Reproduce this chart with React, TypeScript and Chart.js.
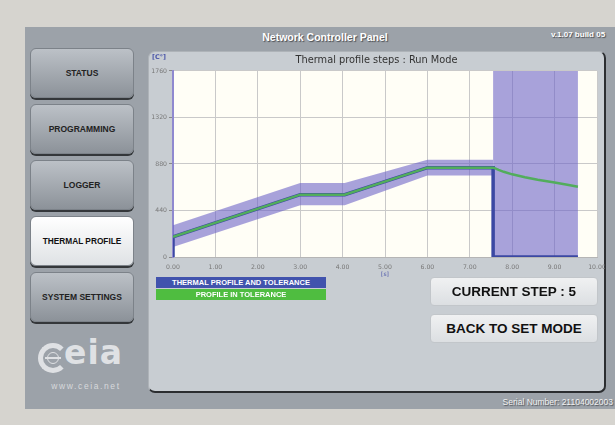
import React, { useEffect, useRef } from 'react';
import { Chart, registerables } from 'chart.js';

Chart.register(...registerables);

// ---- data ----
const profileX = [0, 0, 3.0, 4.05, 6.0, 7.55, 7.55, 9.55];
const profileY = [0, 190, 590, 590, 845, 845, 0, 0];
const greenX = [0, 3.0, 4.05, 6.0, 7.55, 7.6, 7.68, 7.8, 8.0, 8.3, 8.6, 9.0, 9.3, 9.55];
const greenY = [190, 590, 590, 845, 845, 838, 824, 806, 782, 754, 730, 704, 684, 665];
const tolX = [0, 3.0, 4.05, 6.0, 7.55];
const tolUpper = [300, 700, 700, 920, 920];
const tolLower = [95, 490, 490, 770, 770];
const runX = [7.55, 9.55];
const runY = [1760, 1760];
const yTicks = [0, 440, 880, 1320, 1760];
const xTicks = [0, 1, 2, 3, 4, 5, 6, 7, 8, 9, 10];
const menuItems = ['STATUS', 'PROGRAMMING', 'LOGGER', 'THERMAL PROFILE', 'SYSTEM SETTINGS'];
const selectedMenu = 'THERMAL PROFILE';
const legendItems = ['THERMAL PROFILE AND TOLERANCE', 'PROFILE IN TOLERANCE'];
const currentStep = 5;

const pts = (xs: number[], ys: number[]) => xs.map((x, i) => ({ x, y: ys[i] }));

const plotBg = {
  id: 'plotBg',
  beforeDraw(chart: any) {
    const y = chart.scales && chart.scales.y;
    if (y) y._computeLabelArea = () => undefined; // let y labels overhang the layout padding
    const { ctx, chartArea } = chart;
    if (!chartArea) return;
    ctx.save();
    ctx.fillStyle = '#fffef6';
    ctx.fillRect(chartArea.left, chartArea.top, chartArea.right - chartArea.left, chartArea.bottom - chartArea.top);
    ctx.restore();
  },
};

function ThermalChart() {
  const ref = useRef<HTMLCanvasElement | null>(null);
  useEffect(() => {
    if (!ref.current) return;
    const tickFont = { family: 'DejaVu Sans', size: 6.2 };
    const chart = new Chart(ref.current, {
      type: 'line',
      data: {
        datasets: [
          {
            label: 'Profile in tolerance',
            data: pts(greenX, greenY),
            borderColor: '#52ad5c',
            borderWidth: 2.5,
            pointRadius: 0,
            fill: false,
            tension: 0,
          },
          {
            label: 'Thermal profile',
            data: pts(profileX, profileY),
            borderColor: '#3b48a3',
            borderWidth: 3.5,
            pointRadius: 0,
            fill: false,
            tension: 0,
          },
          {
            label: 'Tolerance upper',
            data: pts(tolX, tolUpper),
            borderWidth: 0,
            borderColor: 'rgba(0,0,0,0)',
            backgroundColor: 'rgba(110,100,200,0.6)',
            pointRadius: 0,
            fill: '+1',
          },
          {
            label: 'Tolerance lower',
            data: pts(tolX, tolLower),
            borderWidth: 0,
            borderColor: 'rgba(0,0,0,0)',
            pointRadius: 0,
            fill: false,
          },
          {
            label: 'Run zone',
            data: pts(runX, runY),
            borderWidth: 0,
            borderColor: 'rgba(0,0,0,0)',
            backgroundColor: 'rgba(110,100,200,0.6)',
            pointRadius: 0,
            fill: 'origin',
          },
        ],
      },
      options: {
        animation: false,
        responsive: false,
        maintainAspectRatio: false,
        layout: { padding: { left: 8, right: 8, top: 0, bottom: 0 } },
        plugins: {
          legend: { display: false },
          tooltip: { enabled: false },
          title: {
            display: true,
            text: 'Thermal profile steps : Run Mode',
            color: '#333',
            font: { family: 'DejaVu Sans', size: 9.8, weight: 'normal' },
            padding: { top: 3, bottom: 4.2 },
          },
        },
        scales: {
          x: {
            type: 'linear',
            min: 0,
            max: 10,
            afterBuildTicks: (s: any) => { s.ticks = xTicks.map((v) => ({ value: v })); },
            afterFit: (s: any) => { s.height = 21; s.paddingRight = 0; s.paddingLeft = 0; },
            ticks: {
              font: tickFont,
              color: '#777',
              padding: 7,
              maxRotation: 0,
              autoSkip: false,
              callback: (v: any) => Number(v).toFixed(2),
            },
            grid: { color: '#c9c9c9', lineWidth: 1, drawTicks: false },
            border: { color: '#b5b5b5', width: 1 },
            title: {
              display: true,
              text: '[s]',
              color: '#4651a8',
              font: { family: 'DejaVu Sans', size: 6 },
              padding: { top: 0, bottom: 0 },
            },
          },
          y: {
            type: 'linear',
            min: 0,
            max: 1760,
            afterBuildTicks: (s: any) => { s.ticks = yTicks.map((v) => ({ value: v })); },
            afterFit: (s: any) => { s.width = 17; },
            ticks: { font: tickFont, color: '#777', padding: 2, callback: (v: any) => String(v) },
            grid: { color: '#c9c9c9', lineWidth: 1, tickLength: 4, tickColor: '#888' },
            border: { color: '#8f89cf', width: 2 },
          },
        },
      },
      plugins: [plotBg],
    } as any);
    return () => chart.destroy();
  }, []);
  return <canvas ref={ref} width={457} height={226} style={{ position: 'absolute', left: 148, top: 52, width: 457, height: 226 }} />;
}

export default function App() {
  const sans = '"Liberation Sans", Arial, sans-serif';
  const logoColor = '#dfe1e4';
  return (
    <div style={{ position: 'absolute', left: 0, top: 0, width: 615, height: 425, background: '#d6d4cf', overflow: 'hidden', fontFamily: sans }}>
      {/* main panel */}
      <div style={{ position: 'absolute', left: 25, top: 27, width: 600, height: 382, background: '#9ca2a9' }} />
      <div style={{ position: 'absolute', left: 200, top: 31, width: 250, textAlign: 'center', color: '#fff', fontWeight: 'bold', fontSize: 10.5, textShadow: '1px 1px 1px #4a4e53' }}>
        Network Controller Panel
      </div>
      <div style={{ position: 'absolute', left: 551, top: 30, whiteSpace: 'nowrap', color: '#fff', fontWeight: 'bold', fontSize: 8, textShadow: '1px 1px 1px #4a4e53' }}>
        v.1.07 build 05
      </div>

      {/* menu buttons */}
      {menuItems.map((m, i) => {
        const sel = m === selectedMenu;
        return (
          <div key={m} style={{
            position: 'absolute', left: 30, top: 48 + i * 56, width: 104, height: 50, boxSizing: 'border-box',
            borderRadius: 6, border: '1px solid #7c8289',
            background: sel ? 'linear-gradient(#ffffff, #dfe2e5)' : 'linear-gradient(#bcc1c7, #8c9299)',
            boxShadow: '0 2px 0 #34373a',
            display: 'flex', alignItems: 'center', justifyContent: 'center',
            fontWeight: 'bold', fontSize: sel ? 8.3 : 8.5, color: sel ? '#111' : '#222', whiteSpace: 'nowrap',
          }}>{m}</div>
        );
      })}

      {/* logo */}
      <div style={{ position: 'absolute', left: 38, top: 343, width: 30, height: 30, boxSizing: 'border-box', borderRadius: '50%', border: `5px solid ${logoColor}`, borderRightColor: 'transparent' }} />
      <div style={{ position: 'absolute', left: 47, top: 352, width: 12, height: 12, boxSizing: 'border-box', borderRadius: '50%', border: `1.5px solid ${logoColor}` }} />
      <div style={{ position: 'absolute', left: 45, top: 357, width: 16, height: 2, background: logoColor }} />
      <div style={{ position: 'absolute', left: 64, top: 333, fontFamily: '"DejaVu Sans", sans-serif', fontWeight: 'bold', fontSize: 33, color: logoColor, letterSpacing: 1, lineHeight: '40px' }}>
        eia
      </div>
      <div style={{ position: 'absolute', left: 36, top: 381, width: 100, textAlign: 'center', fontSize: 8.5, color: '#d7d9dc', letterSpacing: 1.6 }}>
        www.ceia.net
      </div>

      {/* chart frame */}
      <div style={{ position: 'absolute', left: 148, top: 51, width: 458, height: 342, boxSizing: 'border-box', borderRadius: 7, background: '#c8cdd2', border: '1px solid #aeb3b8', borderRight: '2px solid #2b2d30', borderBottom: '2px solid #2b2d30' }} />
      <ThermalChart />
      <div style={{ position: 'absolute', left: 152, top: 53, fontFamily: '"DejaVu Sans", sans-serif', fontSize: 6.5, fontWeight: 'bold', color: '#4a55a8' }}>[C°]</div>

      {/* legend */}
      {legendItems.map((l, i) => (
        <div key={l} style={{
          position: 'absolute', left: 156, top: 277 + i * 12, width: 170, height: 11,
          background: i === 0 ? '#4153ad' : '#4fbd40', color: '#fff', fontWeight: 'bold', fontSize: 7.5,
          textAlign: 'center', lineHeight: '11px', whiteSpace: 'nowrap',
        }}>{l}</div>
      ))}

      {/* step buttons */}
      {[`CURRENT STEP : ${currentStep}`, 'BACK TO SET MODE'].map((t, i) => (
        <div key={t} style={{
          position: 'absolute', left: 430, top: i === 0 ? 277 : 314, width: 168, height: 29, boxSizing: 'border-box',
          borderRadius: 4, background: 'linear-gradient(#f0f1f2, #dcdfe2)', border: '1px solid #c2c6ca',
          display: 'flex', alignItems: 'center', justifyContent: 'center',
          fontWeight: 'bold', fontSize: 13.5, color: '#111', whiteSpace: 'nowrap',
        }}>{t}</div>
      ))}

      {/* serial */}
      <div style={{ position: 'absolute', left: 470, top: 397, width: 143, textAlign: 'right', whiteSpace: 'nowrap', color: '#f2f2f2', fontSize: 8.5, textShadow: '1px 1px 1px #4a4e53' }}>
        Serial Number: 21104002003
      </div>
    </div>
  );
}
